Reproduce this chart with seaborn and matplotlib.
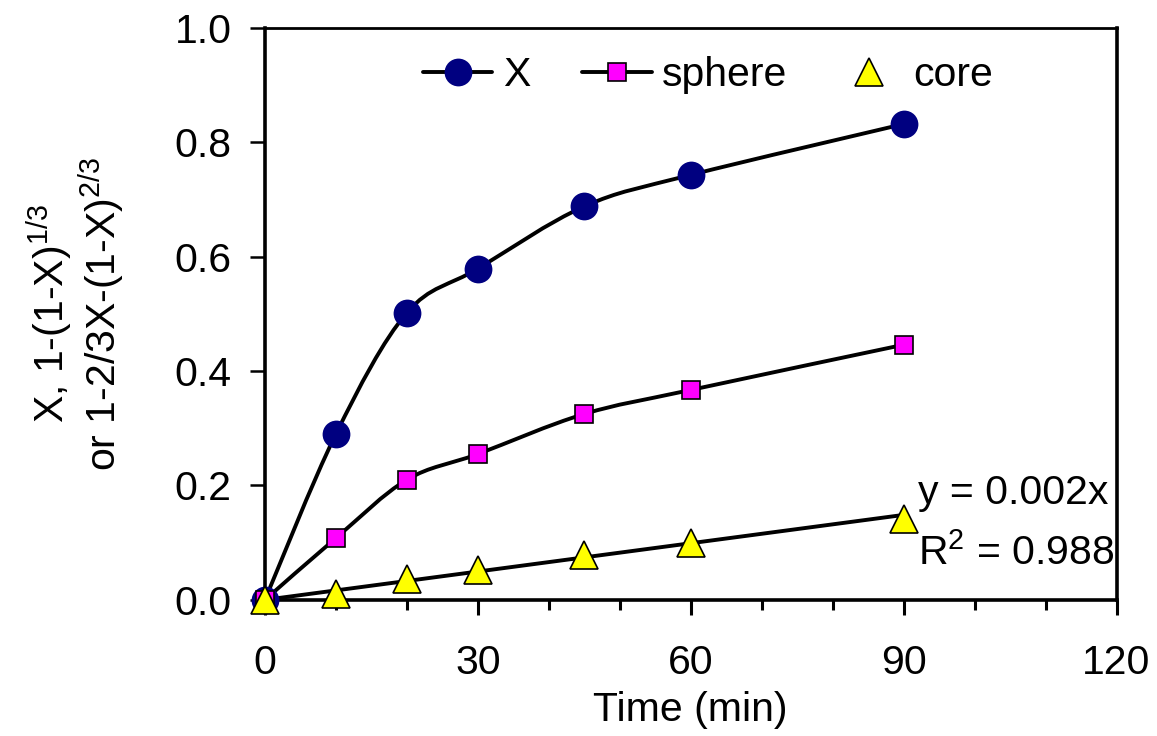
import numpy as np
import pandas as pd
import seaborn as sns
import matplotlib
matplotlib.use("Agg")
import matplotlib.pyplot as plt
from matplotlib.path import Path
from matplotlib.patches import PathPatch
from matplotlib.lines import Line2D
from matplotlib.ticker import MultipleLocator

# 数据
time_min = [0, 10, 20, 30, 45, 60, 90]
x_conv = [0.0, 0.290, 0.502, 0.579, 0.688, 0.743, 0.832]
sphere = [0.0, 0.108, 0.210, 0.255, 0.325, 0.367, 0.446]
core = [0.0, 0.011, 0.037, 0.053, 0.079, 0.100, 0.142]
trend_slope = 0.00165
trend_x = [0, 90]
eq_text = "y = 0.002x"
r2_text = "R$^{\\mathrm{2}}$ = 0.988"

sns.set_style("ticks")
plt.rcParams['font.family'] = ['Liberation Sans', 'DejaVu Sans']
plt.rcParams['mathtext.fontset'] = 'custom'
plt.rcParams['mathtext.rm'] = 'Liberation Sans'
plt.rcParams['mathtext.it'] = 'Liberation Sans'
for k in ['text.color', 'axes.labelcolor', 'xtick.color', 'ytick.color']:
    plt.rcParams[k] = 'black'

fs = 29.5


def smooth_path(xs, ys):
    # Excel 风格的平滑线（Catmull-Rom 转贝塞尔）
    pts = np.column_stack([xs, ys]).astype(float)
    n = len(pts)
    verts = [pts[0]]
    codes = [Path.MOVETO]
    for i in range(n - 1):
        p0 = pts[i - 1] if i > 0 else pts[i]
        p1 = pts[i]
        p2 = pts[i + 1]
        p3 = pts[i + 2] if i + 2 < n else pts[i + 1]
        c1 = p1 + (p2 - p0) / 6.0
        c2 = p2 - (p3 - p1) / 6.0
        verts += [c1, c2, p2]
        codes += [Path.CURVE4] * 3
    return Path(verts, codes)


fig = plt.figure(figsize=(11.57, 7.36), dpi=100)
ax = fig.add_axes([0.229, 0.185, 0.736, 0.777])

lw = 2.8
# 平滑曲线
for ys in (x_conv, sphere):
    ax.add_patch(PathPatch(smooth_path(time_min, ys), fill=False, lw=lw,
                           edgecolor='black', zorder=2))

# 趋势线
df_trend = pd.DataFrame({'t': trend_x, 'y': [trend_slope * t for t in trend_x]})
sns.lineplot(data=df_trend, x='t', y='y', ax=ax, color='black', lw=lw, zorder=2)

df = pd.DataFrame({'t': time_min, 'X': x_conv, 'sphere': sphere, 'core': core})
sns.lineplot(data=df, x='t', y='X', ax=ax, marker='o', linestyle='none',
             ms=20, mfc='#000080', mec='#000080', mew=0, clip_on=False, zorder=3)
sns.lineplot(data=df, x='t', y='sphere', ax=ax, marker='s', linestyle='none',
             ms=13.5, mfc='#FF00FF', mec='black', mew=1.2, clip_on=False, zorder=4)
sns.lineplot(data=df, x='t', y='core', ax=ax, marker='^', linestyle='none',
             ms=20, mfc='#FFFF00', mec='black', mew=1.2, clip_on=False, zorder=5)

ax.set_xlim(0, 120)
ax.set_ylim(0, 1.0)
ax.xaxis.set_major_locator(MultipleLocator(30))
ax.xaxis.set_minor_locator(MultipleLocator(10))
ax.yaxis.set_major_locator(MultipleLocator(0.2))
ax.yaxis.set_major_formatter(matplotlib.ticker.FormatStrFormatter('%.1f'))

ax.tick_params(axis='x', which='major', direction='out', length=11, width=2.2,
               labelsize=fs, pad=21)
ax.tick_params(axis='x', which='minor', direction='out', length=7, width=2.2)
ax.tick_params(axis='y', which='major', direction='out', length=11, width=1.8,
               labelsize=fs, pad=13)

for side in ['left', 'bottom', 'right']:
    ax.spines[side].set_linewidth(2.6)
ax.spines['top'].set_linewidth(2.0)
for side in ax.spines:
    ax.spines[side].set_color('black')

ax.set_xlabel("Time (min)", fontsize=fs, labelpad=6)
ax.set_ylabel("X, 1-(1-X)$^{\\mathrm{1/3}}$\nor 1-2/3X-(1-X)$^{\\mathrm{2/3}}$",
              fontsize=fs, labelpad=34, linespacing=1.05)

ax.text(92, 0.187, eq_text, fontsize=fs, ha='left', va='center')
ax.text(92, 0.082, r2_text, fontsize=fs, ha='left', va='center')

h_x = Line2D([], [], color='black', lw=lw, marker='o', ms=20, mfc='#000080', mec='#000080', mew=0)
h_s = Line2D([], [], color='black', lw=lw, marker='s', ms=13.5, mfc='#FF00FF', mec='black', mew=1.2)
h_c = Line2D([], [], linestyle='none', marker='^', ms=20, mfc='#FFFF00', mec='black', mew=1.2)
leg1 = ax.legend([h_x, h_s], ['X', 'sphere'], loc='center left', bbox_to_anchor=(0.1854, 0.918),
                 ncol=2, frameon=False, fontsize=fs, handlelength=1.7, handletextpad=0.25,
                 columnspacing=1.27, borderpad=0, borderaxespad=0)
ax.add_artist(leg1)
ax.legend([h_c], ['core'], loc='center left', bbox_to_anchor=(0.669, 0.918),
          frameon=False, fontsize=fs, handlelength=1.7, handletextpad=0.22,
          borderpad=0, borderaxespad=0)

fig.savefig("out.png", dpi=100)
